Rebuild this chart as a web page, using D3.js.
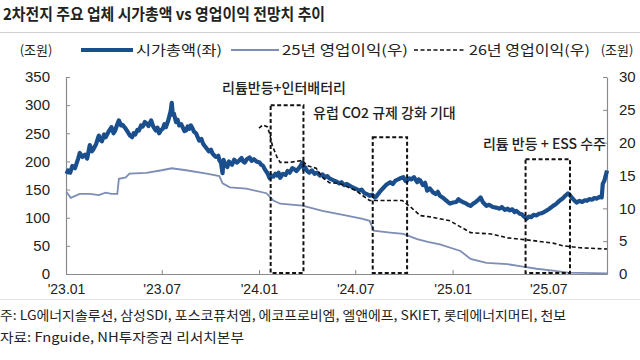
<!DOCTYPE html>
<html><head><meta charset="utf-8">
<script src="https://cdn.jsdelivr.net/npm/d3@7"></script>
<style>
html,body{margin:0;padding:0;background:#fff;}
svg{display:block;}
text{font-family:"Noto Sans CJK KR","Noto Sans",sans-serif;fill:#222;}
.num{font-family:"Liberation Sans Narrow","Liberation Sans",Arial,sans-serif;}
</style></head><body>
<svg id="c" width="640" height="360"></svg>
<script>
const title = "2차전지 주요 업체 시가총액 vs 영업이익 전망치 추이";
const unitLabel = "(조원)";
const seriesNames = ["시가총액(좌)", "25년 영업이익(우)", "26년 영업이익(우)"];
const footnotes = ["주: LG에너지솔루션, 삼성SDI, 포스코퓨처엠, 에코프로비엠, 엘앤에프, SKIET, 롯데에너지머티, 천보",
                   "자료: Fnguide, NH투자증권 리서치본부"];
const xTickDates = ["2023-01-01","2023-07-01","2024-01-01","2024-07-01","2025-01-01","2025-07-01"];
const xTickLabels = ["'23.01","'23.07","'24.01","'24.07","'25.01","'25.07"];
const leftTicks = [0,50,100,150,200,250,300,350];
const rightTicks = [0,5,10,15,20,25,30];

// 시가총액 (left axis, 조원): [date, value]
const capSeries = [
["2023-01-02",178],["2023-01-05",184],["2023-01-09",180],["2023-01-13",192],["2023-01-18",188],["2023-01-24",205],["2023-01-27",215],
["2023-02-01",208],["2023-02-06",212],["2023-02-10",205],["2023-02-15",229],["2023-02-19",218],["2023-02-22",222],["2023-02-27",231],
["2023-03-04",246],["2023-03-07",238],["2023-03-10",236],["2023-03-14",248],["2023-03-17",243],["2023-03-22",252],["2023-03-28",261],
["2023-04-01",250],["2023-04-04",255],["2023-04-08",266],["2023-04-11",273],["2023-04-15",264],["2023-04-18",265],["2023-04-24",258],["2023-04-28",252],
["2023-05-02",246],["2023-05-06",243],["2023-05-09",250],["2023-05-12",248],["2023-05-16",256],["2023-05-19",255],["2023-05-23",264],["2023-05-26",262],["2023-05-30",270],
["2023-06-02",268],["2023-06-06",263],["2023-06-11",273],["2023-06-15",262],["2023-06-20",255],["2023-06-23",260],["2023-06-26",250],["2023-06-30",256],
["2023-07-03",258],["2023-07-06",266],["2023-07-09",261],["2023-07-14",275],["2023-07-18",290],["2023-07-20",304],["2023-07-22",283],["2023-07-24",285],["2023-07-28",270],["2023-07-31",274],
["2023-08-03",264],["2023-08-07",266],["2023-08-10",260],["2023-08-13",254],["2023-08-16",255],["2023-08-19",262],["2023-08-22",258],["2023-08-25",264],["2023-08-28",259],["2023-08-31",253],
["2023-09-04",250],["2023-09-07",243],["2023-09-10",237],["2023-09-14",240],["2023-09-17",232],["2023-09-20",228],["2023-09-24",223],["2023-09-28",218],
["2023-10-02",221],["2023-10-05",214],["2023-10-09",210],["2023-10-12",208],["2023-10-16",210],["2023-10-18",202],["2023-10-21",198],["2023-10-24",179],["2023-10-26",203],["2023-10-28",196],
["2023-11-02",190],["2023-11-05",200],["2023-11-07",198],["2023-11-11",194],["2023-11-15",203],["2023-11-20",198],["2023-11-25",202],["2023-11-29",206],
["2023-12-02",200],["2023-12-05",198],["2023-12-09",204],["2023-12-14",207],["2023-12-18",201],["2023-12-22",204],["2023-12-27",200],
["2024-01-02",198],["2024-01-05",194],["2024-01-08",193],["2024-01-12",186],["2024-01-17",179],["2024-01-21",170],["2024-01-24",175],["2024-01-28",173],
["2024-02-01",178],["2024-02-04",175],["2024-02-07",180],["2024-02-10",171],["2024-02-15",178],["2024-02-20",176],["2024-02-24",183],["2024-02-28",180],
["2024-03-04",188],["2024-03-08",186],["2024-03-12",183],["2024-03-17",189],["2024-03-20",193],["2024-03-23",198],["2024-03-26",186],["2024-03-28",190],
["2024-04-01",183],["2024-04-05",180],["2024-04-10",184],["2024-04-15",178],["2024-04-20",180],["2024-04-25",175],["2024-04-30",177],
["2024-05-05",172],["2024-05-09",174],["2024-05-13",170],["2024-05-17",168],["2024-05-22",166],["2024-05-27",164],
["2024-06-01",161],["2024-06-05",163],["2024-06-10",158],["2024-06-15",160],["2024-06-20",157],["2024-06-24",155],["2024-06-28",153],
["2024-07-03",151],["2024-07-09",148],["2024-07-13",150],["2024-07-18",144],["2024-07-23",142],["2024-07-28",139],
["2024-08-02",141],["2024-08-07",136],["2024-08-10",138],["2024-08-14",143],["2024-08-18",148],["2024-08-22",152],["2024-08-28",158],
["2024-09-05",163],["2024-09-10",160],["2024-09-15",166],["2024-09-20",168],["2024-09-24",170],["2024-09-30",172],
["2024-10-04",165],["2024-10-07",166],["2024-10-11",170],["2024-10-15",168],["2024-10-20",172],["2024-10-26",163],["2024-10-29",168],
["2024-11-01",166],["2024-11-06",158],["2024-11-10",162],["2024-11-14",148],["2024-11-19",152],["2024-11-25",145],["2024-11-30",142],
["2024-12-04",146],["2024-12-08",139],["2024-12-13",136],["2024-12-18",132],["2024-12-23",128],["2024-12-27",125],
["2025-01-02",127],["2025-01-08",128],["2025-01-12",133],["2025-01-16",130],["2025-01-20",128],["2025-01-25",126],["2025-01-30",123],
["2025-02-04",121],["2025-02-09",125],["2025-02-14",128],["2025-02-19",132],["2025-02-23",136],["2025-02-27",128],
["2025-03-03",124],["2025-03-06",121],["2025-03-11",123],["2025-03-18",119],["2025-03-24",118],["2025-03-31",116],
["2025-04-04",119],["2025-04-10",114],["2025-04-15",116],["2025-04-19",113],["2025-04-24",115],["2025-04-28",110],
["2025-05-02",112],["2025-05-08",107],["2025-05-12",106],["2025-05-15",103],["2025-05-19",100],["2025-05-21",98],["2025-05-25",102],["2025-05-30",101],
["2025-06-03",105],["2025-06-09",104],["2025-06-13",107],["2025-06-18",108],["2025-06-23",110],["2025-06-28",113],
["2025-07-03",116],["2025-07-10",121],["2025-07-15",124],["2025-07-22",130],["2025-07-28",134],
["2025-08-02",139],["2025-08-07",143],["2025-08-11",140],["2025-08-15",135],["2025-08-20",130],["2025-08-24",127],["2025-08-29",130],
["2025-09-03",128],["2025-09-08",131],["2025-09-12",130],["2025-09-17",133],["2025-09-22",132],["2025-09-26",135],
["2025-10-01",134],["2025-10-06",137],["2025-10-10",136],["2025-10-12",160],["2025-10-15",166],["2025-10-17",172],["2025-10-20",184]
];

// 25년 영업이익 전망치 (right axis, 조원)
const op25Series = [
["2023-01-02",12.5],["2023-01-10",11.6],["2023-01-27",12.2],["2023-02-15",12.2],["2023-03-04",12.0],["2023-03-17",12.4],["2023-03-28",12.2],["2023-04-08",12.2],
["2023-04-11",14.5],["2023-04-24",14.7],["2023-05-01",15.3],["2023-06-02",15.4],["2023-07-01",15.8],["2023-07-20",16.1],["2023-08-16",15.8],["2023-09-24",15.3],
["2023-10-18",14.9],["2023-10-24",13.8],["2023-11-07",13.2],["2023-12-08",13.0],["2024-01-15",12.3],["2024-01-28",11.2],["2024-02-10",10.7],["2024-03-23",10.4],
["2024-04-30",9.6],["2024-06-15",8.9],["2024-07-15",8.4],["2024-07-28",8.1],["2024-08-05",6.6],["2024-09-05",6.3],["2024-09-30",6.1],["2024-10-26",5.3],
["2024-11-15",4.9],["2024-12-08",4.5],["2025-01-16",3.5],["2025-02-04",2.3],["2025-03-06",1.7],["2025-04-15",1.5],["2025-05-08",1.2],["2025-06-09",0.8],
["2025-07-10",0.5],["2025-08-07",0.2],["2025-10-20",0.1]
];

// 26년 영업이익 전망치 (right axis, 조원)
const op26Series = [
["2024-01-01",22.2],["2024-01-08",22.7],["2024-01-17",22.4],["2024-01-21",21.4],["2024-01-26",19.6],["2024-02-04",17.8],["2024-02-10",17.0],["2024-02-28",17.0],
["2024-03-23",17.3],["2024-04-01",16.5],["2024-04-18",16.1],["2024-04-30",14.7],["2024-05-13",13.9],["2024-06-01",13.8],["2024-07-02",12.7],["2024-07-28",11.2],
["2024-08-22",11.2],["2024-09-28",11.2],["2024-10-15",10.1],["2024-11-01",8.9],["2024-11-20",8.7],["2024-12-27",8.1],["2025-02-04",6.3],["2025-03-15",6.1],
["2025-04-15",5.5],["2025-06-01",5.1],["2025-07-10",4.7],["2025-07-28",4.3],["2025-08-30",4.0],["2025-10-20",3.8]
];

// Event windows
const eventStarts = ["2024-01-23","2024-08-03","2025-05-19"];
const eventEnds = ["2024-03-25","2024-10-07","2025-08-11"];
const eventTops = [300,243,204]; // left-axis units
const eventLabels = ["리튬반등+인터배터리","유럽 CO2 규제 강화 기대","리튬 반등 + ESS 수주"];

const P = d3.timeParse("%Y-%m-%d");
const svg = d3.select("#c");
const L = 66, R = 607, T = 77, B = 274;

const x = d3.scaleTime().domain([P("2023-01-01"), P("2025-10-20")]).range([L, R]);
const yL = d3.scaleLinear().domain([0, 350]).range([B, T]);
const yR = d3.scaleLinear().domain([0, 30]).range([B, T]);

// title
svg.append("text").attr("x", 3).attr("y", 20).attr("font-size", 16).attr("font-weight", 700)
  .attr("textLength", 322).attr("lengthAdjust", "spacingAndGlyphs").text(title);
svg.append("line").attr("x1", 0).attr("x2", 640).attr("y1", 32.5).attr("y2", 32.5).attr("stroke", "#d0d0d0");
svg.append("line").attr("x1", 0).attr("x2", 640).attr("y1", 299.5).attr("y2", 299.5).attr("stroke", "#e2e2e2");

// legend
const ly = 50;
svg.append("text").attr("x", 36).attr("y", ly + 5).attr("text-anchor", "middle").attr("font-size", 13).attr("fill", "#333").text(unitLabel);
svg.append("text").attr("x", 617).attr("y", ly + 5).attr("text-anchor", "middle").attr("font-size", 13).attr("fill", "#333").text(unitLabel);
const legItems = [
  {x1: 81, x2: 133, tx: 136, tw: 86, stroke: "#1a4e8c", w: 4, dash: null},
  {x1: 231, x2: 279, tx: 282, tw: 126, stroke: "#7d8db5", w: 1.8, dash: null},
  {x1: 414, x2: 465, tx: 469, tw: 121, stroke: "#111", w: 1.5, dash: "4,2.5"}
];
legItems.forEach((d, i) => {
  svg.append("line").attr("x1", d.x1).attr("x2", d.x2).attr("y1", ly).attr("y2", ly)
    .attr("stroke", d.stroke).attr("stroke-width", d.w).attr("stroke-dasharray", d.dash);
  svg.append("text").attr("x", d.tx).attr("y", ly + 5).attr("font-size", 13.5).attr("fill", "#333")
    .attr("textLength", d.tw).attr("lengthAdjust", "spacingAndGlyphs").text(seriesNames[i]);
});

// axes
const axisColor = "#8a8a8a";
const gx = svg.append("g").attr("transform", `translate(0,${B})`)
  .call(d3.axisBottom(x).tickValues(xTickDates.map(P)).tickFormat((d, i) => xTickLabels[i]).tickSize(-4).tickSizeOuter(0).tickPadding(10));
const gl = svg.append("g").attr("transform", `translate(${L},0)`)
  .call(d3.axisLeft(yL).tickValues(leftTicks).tickSize(-4).tickSizeOuter(0).tickPadding(16));
const gr = svg.append("g").attr("transform", `translate(${R},0)`)
  .call(d3.axisRight(yR).tickValues(rightTicks).tickSize(-4).tickSizeOuter(0).tickPadding(12));
[gx, gl, gr].forEach(g => {
  g.select(".domain").attr("stroke", axisColor).attr("stroke-width", 1.2);
  g.selectAll(".tick line").attr("stroke", axisColor);
  g.selectAll(".tick text").attr("class", "num").attr("font-size", 15).attr("fill", "#333");
});
gx.selectAll(".tick text").attr("font-size", 14);

// lines
const mk = s => s.map(p => ({d: P(p[0]), v: p[1]}));
const capData = mk(capSeries), o25 = mk(op25Series), o26 = mk(op26Series);

svg.append("path").datum(o25).attr("fill", "none").attr("stroke", "#7d8db5").attr("stroke-width", 1.8)
  .attr("d", d3.line().x(d => x(d.d)).y(d => yR(d.v)));
svg.append("path").datum(capData).attr("fill", "none").attr("stroke", "#1a4e8c").attr("stroke-width", 4.2).attr("stroke-linejoin", "round")
  .attr("d", d3.line().x(d => x(d.d)).y(d => yL(d.v)));
svg.append("path").datum(o26).attr("fill", "none").attr("stroke", "#111").attr("stroke-width", 1.6).attr("stroke-dasharray", "4,2.5")
  .attr("d", d3.line().x(d => x(d.d)).y(d => yR(d.v)));

// event boxes
eventStarts.forEach((s, i) => {
  const x0 = x(P(s)), x1 = x(P(eventEnds[i])), yt = yL(eventTops[i]);
  svg.append("rect").attr("x", x0).attr("y", yt).attr("width", x1 - x0).attr("height", B - 1 - yt)
    .attr("fill", "none").attr("stroke", "#111").attr("stroke-width", 2).attr("stroke-dasharray", "4,2.5");
});
const labelPos = [{x: 222, y: 93, a: "start"}, {x: 313, y: 118, a: "start"}, {x: 606, y: 149, a: "end"}];
eventLabels.forEach((t, i) => {
  svg.append("text").attr("x", labelPos[i].x).attr("y", labelPos[i].y).attr("text-anchor", labelPos[i].a)
    .attr("font-size", 14).attr("font-weight", 500).attr("fill", "#222").text(t);
});

// footnotes
svg.append("text").attr("x", 0).attr("y", 320).attr("font-size", 13).attr("fill", "#333")
  .attr("textLength", 566).attr("lengthAdjust", "spacingAndGlyphs").text(footnotes[0]);
svg.append("text").attr("x", 0).attr("y", 342).attr("font-size", 13).attr("fill", "#333")
  .attr("textLength", 244).attr("lengthAdjust", "spacingAndGlyphs").text(footnotes[1]);
</script>
</body></html>
